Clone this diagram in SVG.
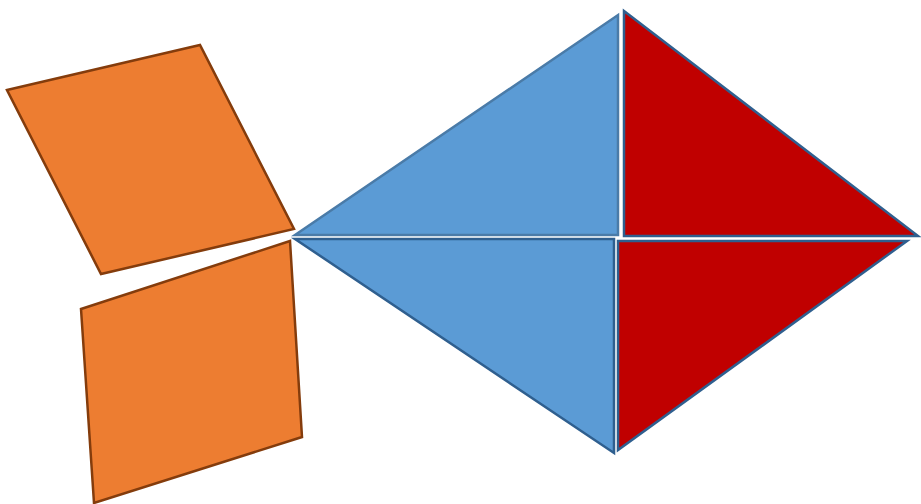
<svg xmlns="http://www.w3.org/2000/svg" width="921" height="504" viewBox="0 0 921 504">
<style>
.o{fill:#ED7D31;stroke:#843C0C;stroke-width:2.5;stroke-linejoin:miter}
.b{fill:#5B9BD5;stroke:#2F5F8F;stroke-width:2.5}
.bt{fill:#5B9BD5;stroke:#4A7BA8;stroke-width:2.5}
.r{fill:#C00000;stroke:#2F5F8F;stroke-width:2.5}
</style>
<rect width="921" height="504" fill="#ffffff"/>
<g id="orange-top"><polygon class="o" points="7,90 200,45 294,229 101,274"/></g>
<g id="orange-bottom"><polygon class="o" points="81,309 290,241 302,437 94,503"/></g>
<g id="blue-top"><polygon class="bt" points="295,235 618,15 618,235"/></g>
<g id="red-top"><polygon class="r" points="624,11 918,236 624,236"/></g>
<g id="blue-bottom"><polygon class="b" points="295,239 614,239 614,453"/></g>
<g id="red-bottom"><polygon class="r" points="618,241 907,241 618,450"/></g>
</svg>
